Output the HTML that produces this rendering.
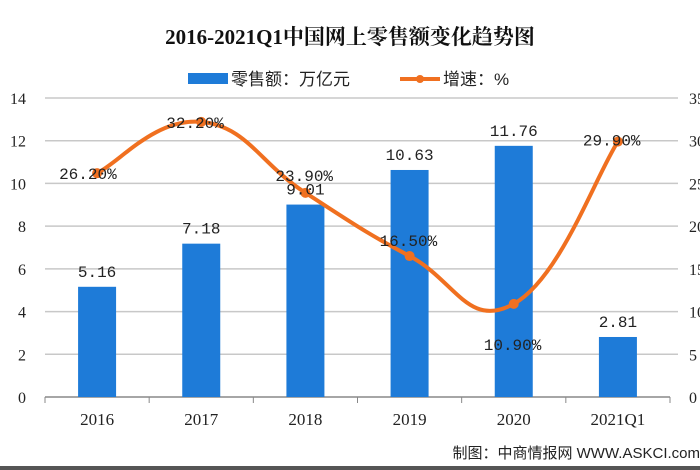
<!DOCTYPE html>
<html><head><meta charset="utf-8"><style>
body{margin:0;background:#fff;}
svg{display:block;font-family:"Liberation Serif","Noto Serif CJK SC",serif;}
</style></head><body>
<svg width="700" height="470" viewBox="0 0 700 470" id="c">
<rect width="700" height="470" fill="#fff"/>
<text x="350" y="44" text-anchor="middle" font-size="21" font-weight="bold" fill="#111" font-family="Liberation Serif,'Noto Serif CJK SC',serif">2016-2021Q1中国网上零售额变化趋势图</text>
<g>
<rect x="188" y="73" width="40" height="11" fill="#1e7bd8"/>
<text x="231" y="85" font-size="17" fill="#222" font-family="Liberation Sans,'Noto Sans CJK SC',sans-serif">零售额：万亿元</text>
<line x1="400" y1="79" x2="440" y2="79" stroke="#f07020" stroke-width="4"/>
<circle cx="420" cy="79" r="4" fill="#f07020"/>
<text x="443" y="85" font-size="17" fill="#222" font-family="Liberation Sans,'Noto Sans CJK SC',sans-serif">增速：%</text>
</g>
<g id="grid"></g><g id="bars"></g><g id="line"></g><g id="labels"></g>
<text x="700" y="458" text-anchor="end" font-size="15" fill="#222" font-family="Liberation Sans,'Noto Sans CJK SC',sans-serif">制图：中商情报网 WWW.ASKCI.com</text>
<rect x="0" y="466" width="700" height="4" fill="#555"/>
</svg>
<script>
const categories=["2016","2017","2018","2019","2020","2021Q1"];
const salesValues=[5.16,7.18,9.01,10.63,11.76,2.81];
const growthValues=[26.2,32.2,23.9,16.5,10.9,29.9];
const leftTicks=[0,2,4,6,8,10,12,14];
const rightTicks=["0","5","10","15","20","25","30","35"];
const NS="http://www.w3.org/2000/svg";
const L=45,R=670,T=98,B=397;
const band=(R-L)/categories.length;
const xc=i=>L+band*(i+0.5);
const yL=v=>B-(v/14)*(B-T);
const yR=v=>B-(v/35)*(B-T);
function mk(tag,attrs,parent,text){const e=document.createElementNS(NS,tag);for(const k in attrs)e.setAttribute(k,attrs[k]);if(text!==undefined)e.textContent=text;document.getElementById(parent).appendChild(e);return e;}
leftTicks.forEach((t,i)=>{
  const y=yL(t);
  if(t>0){const g=mk('line',{x1:L,x2:R+8,y1:y,y2:y,stroke:'#c8c8c8','stroke-width':1.5},'grid');
  
  }
  const a=mk('text',{x:26,y:y+6,'text-anchor':'end','font-size':16,fill:'#222'},'grid',String(t));
  
  
  const b=mk('text',{x:689,y:y+6,'font-size':16,fill:'#222'},'grid',rightTicks[i]);
  
  
});
const ax=mk('line',{x1:L,x2:R,y1:B,y2:B,stroke:'#888','stroke-width':1.5},'grid');


for(let i=0;i<=categories.length;i++){const tk=mk('line',{x1:L+band*i,x2:L+band*i,y1:B,y2:B+6,stroke:'#888'},'grid');

}
categories.forEach((c,i)=>{
  const t=mk('text',{x:xc(i),y:B+28,'text-anchor':'middle','font-size':17,fill:'#222'},'grid',c);
  
  
  const r=mk('rect',{x:xc(i)-19,y:yL(salesValues[i]),width:38,height:B-yL(salesValues[i]),fill:'#1e7bd8'},'bars');
  
  
  const v=mk('text',{x:xc(i),y:yL(salesValues[i])-10,'text-anchor':'middle','font-size':16,fill:'#222','font-family':'Liberation Mono,monospace'},'labels',salesValues[i].toFixed(2));
  
  
});
const pts=growthValues.map((v,i)=>[xc(i),yR(v)]);
let d='M'+pts[0][0]+','+pts[0][1];
for(let i=0;i<pts.length-1;i++){
  const p0=pts[Math.max(0,i-1)],p1=pts[i],p2=pts[i+1],p3=pts[Math.min(pts.length-1,i+2)];
  const k=0.22;
  d+=` C${p1[0]+(p2[0]-p0[0])*k},${p1[1]+(p2[1]-p0[1])*k} ${p2[0]-(p3[0]-p1[0])*k},${p2[1]-(p3[1]-p1[1])*k} ${p2[0]},${p2[1]}`;
}
const ln=mk('path',{d:d,fill:'none',stroke:'#f07020','stroke-width':4},'line');


const off=[[-38,6],[-35,6],[-30,-12],[-30,-10],[-30,46],[-35,4]];
pts.forEach((p,i)=>{
  const m=mk('circle',{cx:p[0],cy:p[1],r:5,fill:'#f07020'},'line');
  
  
  const t=mk('text',{x:p[0]+off[i][0],y:p[1]+off[i][1],'font-size':16,fill:'#222','font-family':'Liberation Mono,monospace'},'labels',growthValues[i].toFixed(2)+'%');
  
  
});
</script>
</body></html>
